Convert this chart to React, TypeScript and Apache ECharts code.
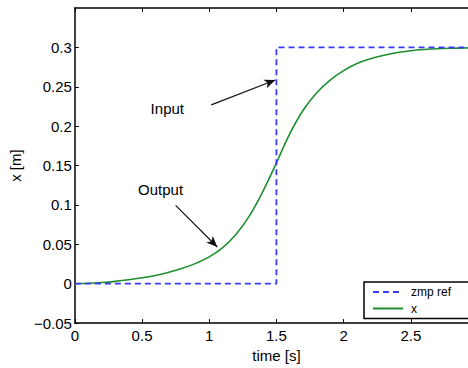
import React, { useEffect, useRef } from "react";
import * as echarts from "echarts";

const timeValues = [0, 0.1, 0.2, 0.3, 0.4, 0.5, 0.6, 0.7, 0.8, 0.9, 1.0, 1.1, 1.2, 1.3, 1.4, 1.5, 1.6, 1.7, 1.8, 1.9, 2.0, 2.1, 2.2, 2.3, 2.4, 2.5, 2.6, 2.7, 2.8, 2.9, 3.0];
const xValues = [0, 0.0005, 0.0015, 0.003, 0.005, 0.0075, 0.0105, 0.0145, 0.0195, 0.0258, 0.034, 0.0458, 0.0628, 0.0865, 0.1175, 0.1535, 0.1905, 0.2205, 0.2425, 0.2585, 0.2705, 0.2795, 0.2855, 0.29, 0.2935, 0.2958, 0.2973, 0.2983, 0.2989, 0.2993, 0.2996];
const zmpTime = [0, 1.5, 1.5, 3.0];
const zmpValues = [0, 0, 0.3, 0.3];
const yTicks = { min: -0.05, max: 0.35, interval: 0.05 };
const xTicks = { min: 0, max: 3, interval: 0.5 };
const annotationTexts = [
  { name: "Input", t: 0.688, v: 0.2226 },
  { name: "Output", t: 0.638, v: 0.12 },
];
const arrows = [
  { from: [1.015, 0.227], to: [1.492, 0.2586] },
  { from: [0.75, 0.0995], to: [1.06, 0.0466] },
];

const FONT = "Liberation Sans";

export default function App() {
  const ref = useRef<HTMLDivElement>(null);
  useEffect(() => {
    if (!ref.current) return;
    const chart = echarts.init(ref.current, undefined, { renderer: "svg" });
    const fmtY = (v: number) => {
      const r = Math.round(v * 100) / 100;
      return String(r).replace("-", "\u2212");
    };
    const commonX = {
      type: "value" as const,
      min: xTicks.min,
      max: xTicks.max,
      interval: xTicks.interval,
      splitLine: { show: false },
      axisLine: { onZero: false, lineStyle: { color: "#000", width: 1.5 } },
      axisTick: { inside: true, length: 4, lineStyle: { color: "#000", width: 1 } },
    };
    const commonY = {
      type: "value" as const,
      min: yTicks.min,
      max: yTicks.max,
      interval: yTicks.interval,
      splitLine: { show: false },
      axisLine: { onZero: false, lineStyle: { color: "#000", width: 1.5 } },
      axisTick: { inside: true, length: 4, lineStyle: { color: "#000", width: 1 } },
    };
    chart.setOption({
      animation: false,
      backgroundColor: "#fff",
      textStyle: { fontFamily: FONT },
      grid: { left: 74, top: 8, width: 404, height: 318, containLabel: false },
      xAxis: [
        {
          ...commonX,
          position: "bottom",
          name: "time [s]",
          nameLocation: "middle",
          nameGap: 23,
          nameTextStyle: { color: "#000", fontSize: 15, fontFamily: FONT },
          axisLabel: { color: "#000", fontSize: 15, margin: 5, fontFamily: FONT, showMaxLabel: false },
        },
        { ...commonX, position: "top", axisLabel: { show: false } },
      ],
      yAxis: [
        {
          ...commonY,
          position: "left",
          name: "x [m]",
          nameLocation: "middle",
          nameGap: 44,
          nameTextStyle: { color: "#000", fontSize: 15, fontFamily: FONT },
          axisLabel: { color: "#000", fontSize: 15, margin: 3, fontFamily: FONT, formatter: fmtY, showMaxLabel: false },
        },
        { ...commonY, position: "right", axisLabel: { show: false } },
      ],
      legend: {
        orient: "vertical",
        left: 364,
        top: 282,
        itemWidth: 30,
        itemHeight: 14,
        itemGap: 4.5,
        padding: [4, 40, 4, 8],
        borderColor: "#000",
        borderWidth: 1.5,
        borderRadius: 0,
        backgroundColor: "#fff",
        itemStyle: { color: "transparent", borderWidth: 0, opacity: 0 },
        textStyle: { color: "#000", fontSize: 12, fontFamily: FONT, padding: [0, 0, 0, 3] },
        data: ["zmp ref", "x"],
      },
      series: [
        {
          name: "zmp ref",
          type: "line",
          symbol: "none",
          data: zmpTime.map((t, i) => [t, zmpValues[i]]),
          lineStyle: { color: "#3a3aff", width: 1.8, type: [6, 4] },
          itemStyle: { color: "#3a3aff" },
          z: 3,
        },
        {
          name: "x",
          type: "line",
          symbol: "none",
          smooth: 0.4,
          data: timeValues.map((t, i) => [t, xValues[i]]),
          lineStyle: { color: "#1e8f2e", width: 1.6 },
          itemStyle: { color: "#1e8f2e" },
          z: 2,
          markLine: {
            silent: true,
            symbol: ["none", "arrow"],
            symbolSize: [7, 11],
            label: { show: false },
            lineStyle: { color: "#111", width: 1.2, type: "solid" },
            data: arrows.map((a) => [{ coord: a.from }, { coord: a.to }]),
          },
          markPoint: {
            silent: true,
            symbol: "circle",
            symbolSize: 0,
            label: {
              show: true,
              position: "inside",
              formatter: "{b}",
              color: "#000",
              fontSize: 15,
              fontFamily: FONT,
            },
            data: annotationTexts.map((a) => ({ name: a.name, coord: [a.t, a.v] })),
          },
        },
      ],
    });
    return () => chart.dispose();
  }, []);
  return (
    <div style={{ position: "fixed", left: 0, top: 0, width: 468, height: 368, overflow: "hidden", background: "#fff" }}>
      <div ref={ref} style={{ width: 500, height: 368 }} />
    </div>
  );
}
